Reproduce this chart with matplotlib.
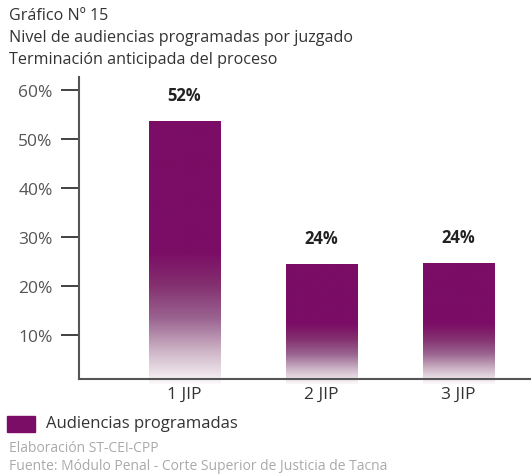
import matplotlib
matplotlib.use("Agg")
import matplotlib.pyplot as plt
import numpy as np
from matplotlib.colors import LinearSegmentedColormap

plt.rcParams['font.family'] = ['Open Sans', 'DejaVu Sans']

# datos
categorias = ['1 JIP', '2 JIP', '3 JIP']
valores = [53.6, 24.4, 24.6]
etiquetas = ['52%', '24%', '24%']
yticks = [10, 20, 30, 40, 50, 60]

morado = '#7b0d66'

fig = plt.figure(figsize=(5.31, 4.77), dpi=100)
ax = fig.add_axes([79/531, 1 - 380/477, 451/531, 302/477])

x = np.arange(len(categorias))
bars = ax.bar(x, valores, width=0.52, color='none', edgecolor='none')

# degradado: morado arriba, blanco abajo
cmap = LinearSegmentedColormap.from_list('fade', ['#fbf8fa', '#cdb4c6', '#9a6390', '#84306f', morado])
for b in bars:
    x0, w, h = b.get_x(), b.get_width(), b.get_height()
    grad = np.linspace(0, 1, 256).reshape(-1, 1)
    grad = np.clip(grad / 0.5, 0, 1)
    im = ax.imshow(grad, extent=[x0, x0 + w, 0, h], origin='lower', aspect='auto',
                   cmap=cmap, vmin=0, vmax=1, zorder=2)
    im.set_clip_path(b)

for xi, v, lab in zip(x, valores, etiquetas):
    ax.annotate(lab, (xi, v), xytext=(0, 19), textcoords='offset points',
                ha='center', va='center', fontsize=12, fontweight='bold', color='#222222')

ax.set_xlim(-0.77, 2.52)
ax.set_ylim(0.96, 62.6)
ax.set_xticks(x)
ax.set_xticklabels(categorias, fontsize=12.5, color='#333333')
ax.set_yticks(yticks)
ax.set_yticklabels([f'{t}%' for t in yticks], fontsize=12.5, color='#555555')
ax.tick_params(axis='y', length=13, width=1.3, color='#333333', pad=6)
ax.tick_params(axis='x', length=0, pad=5)
for s in ['top', 'right']:
    ax.spines[s].set_visible(False)
ax.spines['left'].set_color('#555555')
ax.spines['left'].set_linewidth(1.5)
ax.spines['bottom'].set_color('#555555')
ax.spines['bottom'].set_linewidth(1.5)

# titulos
fig.text(9/531, 1 - 16/477, 'Gráfico Nº 15', fontsize=11.6, color='#333333', va='center')
fig.text(9/531, 1 - 38/477, 'Nivel de audiencias programadas por juzgado', fontsize=11.6, color='#333333', va='center')
fig.text(9/531, 1 - 60/477, 'Terminación anticipada del proceso', fontsize=11.6, color='#333333', va='center')

# leyenda
fig.patches.append(plt.Rectangle((7/531, 1 - 433/477), 28/531, 16/477,
                                 transform=fig.transFigure, color=morado))
fig.text(46/531, 1 - 424/477, 'Audiencias programadas', fontsize=12, color='#333333', va='center')
fig.text(9/531, 1 - 449/477, 'Elaboración ST-CEI-CPP', fontsize=10, color='#aaaaaa', va='center')
fig.text(9/531, 1 - 467/477, 'Fuente: Módulo Penal - Corte Superior de Justicia de Tacna', fontsize=10,
         color='#aaaaaa', va='center')

fig.savefig('out.png', dpi=100)
